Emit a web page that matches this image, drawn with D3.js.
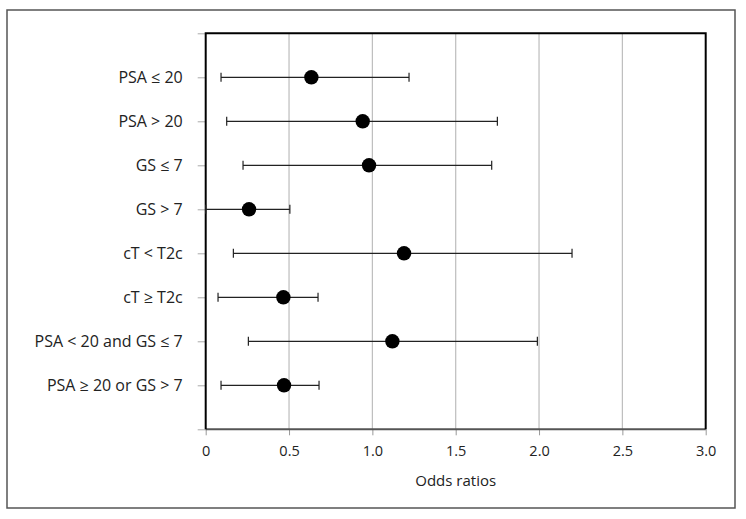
<!DOCTYPE html>
<html>
<head>
<meta charset="utf-8">
<script src="https://cdn.jsdelivr.net/npm/d3@7"></script>
<style>
  html, body { margin: 0; padding: 0; background: #fff; }
  svg { display: block; font-family: "Open Sans", "Noto Sans", sans-serif; }
</style>
</head>
<body>
<svg id="chart" width="746" height="519"></svg>
<script>
const categories = ["PSA \u2264 20", "PSA > 20", "GS \u2264 7", "GS > 7", "cT < T2c", "cT \u2265 T2c", "PSA < 20 and GS \u2264 7", "PSA \u2265 20 or GS > 7"];
const oddsRatio = [0.634, 0.942, 0.98, 0.26, 1.19, 0.466, 1.12, 0.47];
const ciLower   = [0.092, 0.126, 0.224, 0.0, 0.166, 0.074, 0.256, 0.092];
const ciUpper   = [1.22, 1.75, 1.716, 0.505, 2.198, 0.674, 1.99, 0.68];
const xTicks = [0, 0.5, 1.0, 1.5, 2.0, 2.5, 3.0];
const xTickLabels = ["0", "0.5", "1.0", "1.5", "2.0", "2.5", "3.0"];
const xTitle = "Odds ratios";

const FONT = '"Open Sans", "Noto Sans", sans-serif';
const svg = d3.select("#chart");
const m = { left: 205.7, right: 705.7, top: 33.3, bottom: 429.3 };

// outer frame
svg.append("rect").attr("x", 7).attr("y", 10).attr("width", 728).attr("height", 498)
  .attr("fill", "none").attr("stroke", "#555").attr("stroke-width", 1.5);

const x = d3.scaleLinear().domain([0, 3]).range([m.left, m.right]);
const y = d3.scaleLinear().domain([0, categories.length + 1]).range([m.top, m.bottom]);

// gridlines
svg.append("g").selectAll("line").data(xTicks.filter(d => d > 0 && d < 3)).join("line")
  .attr("x1", d => x(d)).attr("x2", d => x(d)).attr("y1", m.top).attr("y2", m.bottom)
  .attr("stroke", "#bdbdbd").attr("stroke-width", 1.2);

// x axis
const xAxis = svg.append("g").attr("transform", `translate(0,${m.bottom})`)
  .call(d3.axisBottom(x).tickValues(xTicks).tickFormat((d, i) => xTickLabels[i]).tickSize(6).tickPadding(10))
  .attr("font-family", FONT);
xAxis.select(".domain").remove();
xAxis.selectAll(".tick line").attr("stroke", "#999");
xAxis.selectAll(".tick text").attr("font-size", 14.5).attr("fill", "#222");

// y axis
const yTicks = d3.range(0, categories.length + 2);
const yAxis = svg.append("g").attr("transform", `translate(${m.left},0)`)
  .call(d3.axisLeft(y).tickValues(yTicks).tickFormat(d => categories[d - 1] || "").tickSize(8).tickPadding(15))
  .attr("font-family", FONT);
yAxis.select(".domain").remove();
yAxis.selectAll(".tick line").attr("stroke", "#aaa");
yAxis.selectAll(".tick text").attr("font-size", 16).attr("fill", "#222");

// plot border
svg.append("line").attr("x1", m.left).attr("x2", m.right).attr("y1", m.bottom).attr("y2", m.bottom)
  .attr("stroke", "#555").attr("stroke-width", 2);
svg.append("path")
  .attr("d", `M${m.left},${m.bottom}V${m.top}H${m.right}V${m.bottom}`)
  .attr("fill", "none").attr("stroke", "#000").attr("stroke-width", 2);

// error bars
const rows = categories.map((c, i) => ({ c, i, or: oddsRatio[i], lo: ciLower[i], hi: ciUpper[i] }));
const g = svg.append("g");
g.selectAll("line.ci").data(rows).join("line").attr("class", "ci")
  .attr("x1", d => x(d.lo)).attr("x2", d => x(d.hi))
  .attr("y1", d => y(d.i + 1)).attr("y2", d => y(d.i + 1))
  .attr("stroke", "#222").attr("stroke-width", 1.2);
g.selectAll("line.capl").data(rows).join("line").attr("class", "capl")
  .attr("x1", d => x(d.lo)).attr("x2", d => x(d.lo))
  .attr("y1", d => y(d.i + 1) - 4.5).attr("y2", d => y(d.i + 1) + 4.5)
  .attr("stroke", "#222").attr("stroke-width", 1.2);
g.selectAll("line.caph").data(rows).join("line").attr("class", "caph")
  .attr("x1", d => x(d.hi)).attr("x2", d => x(d.hi))
  .attr("y1", d => y(d.i + 1) - 4.5).attr("y2", d => y(d.i + 1) + 4.5)
  .attr("stroke", "#222").attr("stroke-width", 1.2);
g.selectAll("circle").data(rows).join("circle")
  .attr("cx", d => x(d.or)).attr("cy", d => y(d.i + 1)).attr("r", 7.2)
  .attr("fill", "#000");

// x title
svg.append("text").attr("x", (m.left + m.right) / 2).attr("y", 486)
  .attr("text-anchor", "middle").attr("font-family", FONT).attr("font-size", 15).attr("fill", "#222").text(xTitle);
</script>
</body>
</html>
